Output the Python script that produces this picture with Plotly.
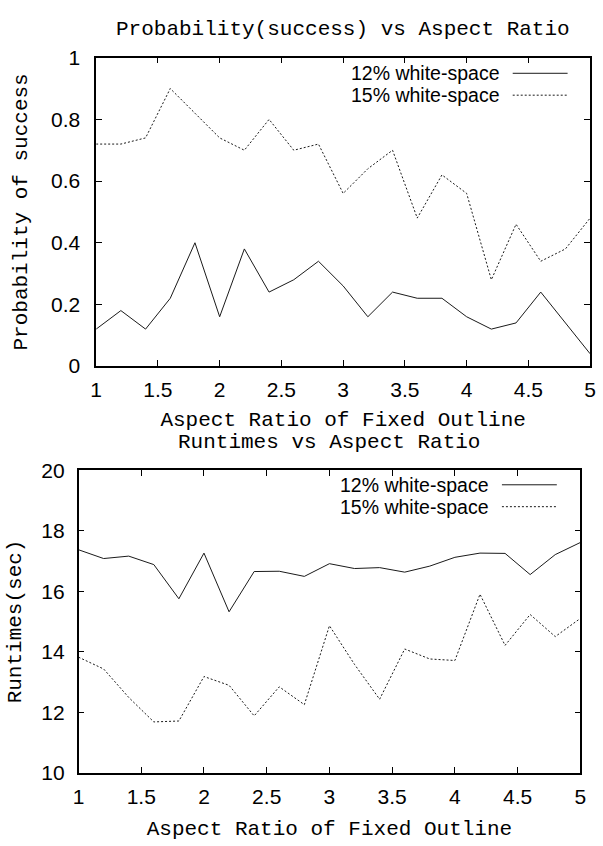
import plotly.graph_objects as go

W, H = 603, 846

aspect_ratio = [1.0, 1.2, 1.4, 1.6, 1.8, 2.0, 2.2, 2.4, 2.6, 2.8, 3.0,
                3.2, 3.4, 3.6, 3.8, 4.0, 4.2, 4.4, 4.6, 4.8, 5.0]

prob_12 = [0.12, 0.18, 0.12, 0.22, 0.40, 0.16, 0.38, 0.24, 0.28, 0.34, 0.26,
           0.16, 0.24, 0.22, 0.22, 0.16, 0.12, 0.14, 0.24, 0.14, 0.04]
prob_15 = [0.72, 0.72, 0.74, 0.90, 0.82, 0.74, 0.70, 0.80, 0.70, 0.72, 0.56,
           0.64, 0.70, 0.48, 0.62, 0.56, 0.28, 0.46, 0.34, 0.38, 0.48]

rt_12 = [17.37, 17.08, 17.16, 16.88, 15.75, 17.26, 15.32, 16.65, 16.66, 16.49, 16.91,
         16.75, 16.78, 16.63, 16.83, 17.12, 17.26, 17.25, 16.55, 17.21, 17.61]
rt_15 = [13.82, 13.43, 12.49, 11.68, 11.71, 13.18, 12.89, 11.88, 12.84, 12.25, 14.86,
         13.58, 12.43, 14.09, 13.76, 13.71, 15.90, 14.21, 15.23, 14.50, 15.10]

series_names = ["12% white-space", "15% white-space"]
x_ticks = [1, 1.5, 2, 2.5, 3, 3.5, 4, 4.5, 5]
x_tick_text = ["1", "1.5", "2", "2.5", "3", "3.5", "4", "4.5", "5"]
prob_ticks = [0, 0.2, 0.4, 0.6, 0.8, 1]
prob_tick_text = ["0", "0.2", "0.4", "0.6", "0.8", "1"]
rt_ticks = [10, 12, 14, 16, 18, 20]
rt_tick_text = ["10", "12", "14", "16", "18", "20"]

titles = ["Probability(success) vs Aspect Ratio", "Runtimes vs Aspect Ratio"]
x_title = "Aspect Ratio of Fixed Outline"
y_titles = ["Probability of success", "Runtimes(sec)"]

def px(x):
    return x / W

def py(y):
    return 1 - y / H

MONO = "Liberation Mono, Courier New, monospace"
SANS = "Liberation Sans, Arial, sans-serif"
LINE_COL = "#1a1a1a"
DOT = "2px,2px"

fig = go.Figure()

fig.add_trace(go.Scatter(x=aspect_ratio, y=prob_12, mode="lines", name=series_names[0],
                         line=dict(color=LINE_COL, width=1), xaxis="x", yaxis="y", showlegend=False))
fig.add_trace(go.Scatter(x=aspect_ratio, y=prob_15, mode="lines", name=series_names[1],
                         line=dict(color=LINE_COL, width=1, dash=DOT), xaxis="x", yaxis="y", showlegend=False))
fig.add_trace(go.Scatter(x=aspect_ratio, y=rt_12, mode="lines", name=series_names[0],
                         line=dict(color=LINE_COL, width=1), xaxis="x2", yaxis="y2", showlegend=False))
fig.add_trace(go.Scatter(x=aspect_ratio, y=rt_15, mode="lines", name=series_names[1],
                         line=dict(color=LINE_COL, width=1, dash=DOT), xaxis="x2", yaxis="y2", showlegend=False))

axis_common = dict(showgrid=False, zeroline=False, showline=True, linecolor="black", linewidth=1.5,
                   mirror="allticks", ticks="inside", ticklen=6, tickwidth=1, tickcolor="black",
                   tickfont=dict(family=SANS, size=21, color="black"))

# panel geometry (pixels)
top = dict(l=92, r=596, t=47, b=364)
bot = dict(l=74, r=586, t=471, b=782)

fig.update_layout(
    width=W, height=H, autosize=False,
    margin=dict(l=0, r=0, t=0, b=0),
    paper_bgcolor="white", plot_bgcolor="white",
    xaxis=dict(domain=[px(top["l"]), px(top["r"])], range=[1, 5], anchor="y",
               tickvals=x_ticks, ticktext=x_tick_text, ticklabelstandoff=4,
               title=dict(text=x_title, font=dict(family=MONO, size=21, color="black"), standoff=11),
               **axis_common),
    yaxis=dict(domain=[py(top["b"]), py(top["t"])], range=[0, 1], anchor="x",
               tickvals=prob_ticks, ticktext=prob_tick_text, ticklabelstandoff=10,
               title=dict(text=y_titles[0], font=dict(family=MONO, size=21, color="black"), standoff=18),
               **axis_common),
    xaxis2=dict(domain=[px(bot["l"]), px(bot["r"])], range=[1, 5], anchor="y2",
                tickvals=x_ticks, ticktext=x_tick_text, ticklabelstandoff=4,
                title=dict(text=x_title, font=dict(family=MONO, size=21, color="black"), standoff=14),
                **axis_common),
    yaxis2=dict(domain=[py(bot["b"]), py(bot["t"])], range=[10, 20], anchor="x2",
                tickvals=rt_ticks, ticktext=rt_tick_text, ticklabelstandoff=8,
                title=dict(text=y_titles[1], font=dict(family=MONO, size=21, color="black"), standoff=14),
                **axis_common),
)

annotations = [
    dict(text=titles[0], x=px((top["l"] + top["r"]) / 2), y=py(18), xref="paper", yref="paper",
         xanchor="center", yanchor="middle", showarrow=False, font=dict(family=MONO, size=21, color="black")),
    dict(text=titles[1], x=px((bot["l"] + bot["r"]) / 2), y=py(443), xref="paper", yref="paper",
         xanchor="center", yanchor="middle", showarrow=False, font=dict(family=MONO, size=21, color="black")),
]
shapes = []

# gnuplot-style keys: right-justified text with line sample on the right
legend_specs = [
    (505, 517, 573, [63, 85.5]),
    (494, 506, 562, [486, 508.5]),
]
for (tx, sx0, sx1, rows) in legend_specs:
    for i, ry in enumerate(rows):
        annotations.append(dict(text=series_names[i], x=px(tx), y=py(ry), xref="paper", yref="paper",
                                xanchor="right", yanchor="middle", showarrow=False, borderpad=0,
                                font=dict(family=SANS, size=19.5, color="black")))
        shapes.append(dict(type="line", xref="paper", yref="paper", x0=px(sx0), x1=px(sx1),
                           y0=py(ry), y1=py(ry),
                           line=dict(color=LINE_COL, width=1, dash=("solid" if i == 0 else DOT))))

fig.update_layout(annotations=annotations, shapes=shapes)

fig.write_html("out.html")
